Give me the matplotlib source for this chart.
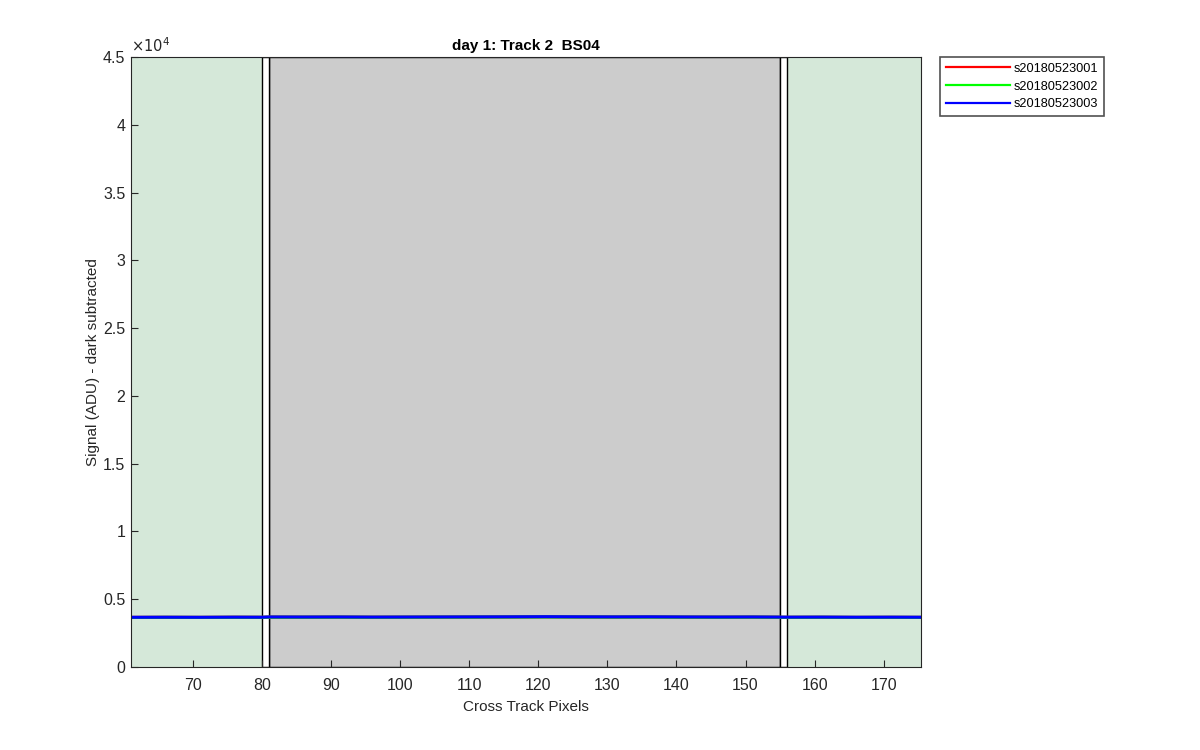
import matplotlib
matplotlib.use("Agg")
import matplotlib.pyplot as plt
from matplotlib.ticker import FuncFormatter
from matplotlib.patches import Rectangle

plt.rcParams['font.family'] = ['Liberation Sans', 'DejaVu Sans']

# Data
pixels = [61, 66, 71, 76, 80, 81, 86, 91, 96, 101, 106, 111, 116, 121, 126,
          131, 136, 141, 146, 151, 155, 156, 161, 166, 171, 175.4]
s001 = [3660, 3665, 3660, 3670, 3665, 3680, 3675, 3680, 3670, 3675, 3680, 3685, 3690,
        3700, 3690, 3685, 3690, 3680, 3675, 3680, 3670, 3665, 3670, 3660, 3665, 3660]
s002 = [3650, 3660, 3655, 3660, 3660, 3670, 3670, 3675, 3665, 3670, 3675, 3680, 3685,
        3690, 3685, 3680, 3680, 3675, 3670, 3675, 3665, 3660, 3665, 3655, 3660, 3655]
s003 = [3665, 3670, 3665, 3675, 3670, 3690, 3685, 3690, 3680, 3685, 3690, 3695, 3700,
        3710, 3700, 3695, 3700, 3690, 3685, 3690, 3680, 3675, 3680, 3670, 3675, 3670]
series_names = ['s20180523001', 's20180523002', 's20180523003']
series_colors = ['#ff0000', '#00ff00', '#0000ff']

green_regions = [(61, 80), (156, 175.4)]
gray_regions = [(81, 155)]
gap_regions = [(80, 81), (155, 156)]
ymax = 45000

fig = plt.figure(figsize=(12, 7.5), dpi=100)
ax = fig.add_axes([0.109, 0.1107, 0.6585, 0.8133])

for a, b in green_regions:
    ax.add_patch(Rectangle((a, 0), b - a, ymax, facecolor='#d5e8d9', edgecolor='none', zorder=1))
for a, b in gray_regions:
    ax.add_patch(Rectangle((a, 0), b - a, ymax, facecolor='#cccccc', edgecolor='black', lw=1, zorder=1))
for a, b in gap_regions:
    ax.add_patch(Rectangle((a, 0), b - a, ymax, facecolor='white', edgecolor='black', lw=1, zorder=1.5))

for vals, name, col in zip([s001, s002, s003], series_names, series_colors):
    ax.plot(pixels, vals, color=col, lw=2.2, label=name, zorder=3)

ax.set_xlim(61, 175.4)
ax.set_ylim(0, ymax)
ax.set_xticks([70, 80, 90, 100, 110, 120, 130, 140, 150, 160, 170])
ax.set_yticks([0, 5000, 10000, 15000, 20000, 25000, 30000, 35000, 40000, 45000])
ax.yaxis.set_major_formatter(FuncFormatter(lambda v, p: '%g' % (v / 1e4)))
ax.text(0.0, 1.004, r'$\times10^{4}$', transform=ax.transAxes, ha='left', va='bottom',
        fontsize=10.5, color='#262626')
ax.tick_params(direction='in', labelsize=11.5, colors='#262626', length=5, width=0.8)
ax.tick_params(axis='x', pad=8)
ax.tick_params(axis='y', pad=4)
for sp in ax.spines.values():
    sp.set_color('#262626')
    sp.set_linewidth(0.8)
    sp.set_zorder(5)

ax.set_xlabel('Cross Track Pixels', fontsize=11, color='#262626', labelpad=5)
ax.set_ylabel('Signal (ADU) - dark subtracted', fontsize=11, color='#262626', labelpad=2)
ax.set_title('day 1: Track 2  BS04', fontsize=11, fontweight='bold', color='black', pad=5)

leg = ax.legend(loc='upper left', bbox_to_anchor=(1.024, 1.0), fontsize=9.2, frameon=True,
                fancybox=False, edgecolor='#262626', borderpad=0.45, handlelength=5.0,
                labelspacing=0.45, handletextpad=0.35, borderaxespad=0)
leg.get_frame().set_linewidth(1.2)
for h in leg.get_lines():
    h.set_linewidth(1.6)

fig.savefig('out.png', dpi=100)
